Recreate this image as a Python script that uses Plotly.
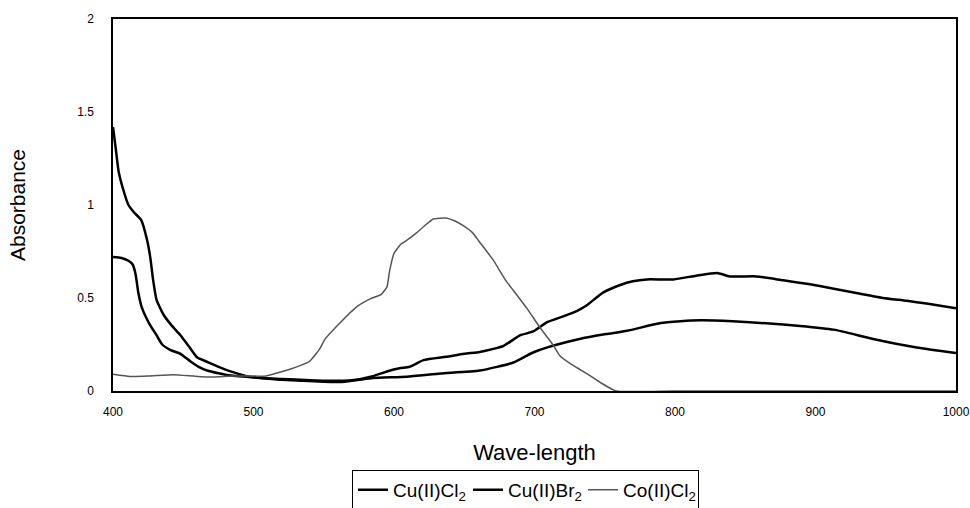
import plotly.graph_objects as go

# Wavelength (nm) / absorbance readings
cucl2_wl = [400, 402, 404, 407, 411, 415, 420, 424, 426.5, 428.5, 431, 436, 442, 448, 454, 460, 466, 472,
            480, 486, 495, 505, 520, 540, 555, 570, 585, 595, 604, 611, 621, 637, 650, 661, 670, 678,
            690, 699, 709, 720, 730, 737, 749, 761, 770, 780, 799, 815, 830, 839, 858, 877, 895, 913,
            930, 948, 965, 979, 1000]
cucl2_abs = [1.42, 1.30, 1.18, 1.09, 1.00, 0.96, 0.92, 0.82, 0.72, 0.60, 0.49, 0.41, 0.35, 0.30, 0.24, 0.18, 0.16, 0.14,
             0.115, 0.10, 0.08, 0.07, 0.065, 0.058, 0.055, 0.058, 0.08, 0.105, 0.122, 0.13, 0.166, 0.184, 0.20, 0.21, 0.225, 0.243,
             0.30, 0.32, 0.37, 0.40, 0.43, 0.46, 0.53, 0.57, 0.59, 0.60, 0.60, 0.62, 0.635, 0.616, 0.616, 0.595, 0.575, 0.55,
             0.525, 0.50, 0.485, 0.47, 0.445]

cubr2_wl = [400, 406, 411, 414, 416, 418, 420.5, 426, 431, 435, 441, 448, 455, 461, 467, 475, 481, 495,
            505, 520, 535, 550, 565, 575, 585, 609, 633, 661, 685, 699, 713, 732, 751, 766, 789, 804,
            818, 841, 865, 889, 913, 941, 972, 1000]
cubr2_abs = [0.72, 0.715, 0.70, 0.68, 0.63, 0.53, 0.45, 0.36, 0.30, 0.25, 0.22, 0.20, 0.16, 0.13, 0.11, 0.095, 0.086, 0.076,
             0.07, 0.06, 0.055, 0.05, 0.05, 0.06, 0.07, 0.077, 0.094, 0.11, 0.153, 0.207, 0.243, 0.28, 0.306, 0.324, 0.364, 0.375,
             0.38, 0.375, 0.364, 0.35, 0.33, 0.28, 0.234, 0.204]

cocl2_wl = [400, 412, 425, 443, 458, 470, 485, 500, 509, 526, 540, 547, 551, 562, 573, 583, 591, 595, 597,
            600, 605, 609, 616, 622, 628, 637, 643, 649, 656, 661, 671, 679, 685, 695, 704, 713, 718,
            725, 732, 740, 747, 758, 800, 900, 1000]
cocl2_abs = [0.09, 0.078, 0.08, 0.088, 0.08, 0.075, 0.08, 0.08, 0.081, 0.117, 0.16, 0.225, 0.28, 0.37, 0.45, 0.495, 0.52, 0.56, 0.65,
             0.74, 0.79, 0.81, 0.85, 0.89, 0.925, 0.93, 0.915, 0.89, 0.85, 0.80, 0.70, 0.60, 0.54, 0.44, 0.34, 0.25, 0.19,
             0.15, 0.117, 0.08, 0.045, 0.0, 0.0, 0.0, 0.0]

x_ticks = [400, 500, 600, 700, 800, 900, 1000]
y_ticks = [0, 0.5, 1, 1.5, 2]
y_tick_text = ["0", "0.5", "1", "1.5", "2"]

FONT = "Liberation Sans, Arial, Helvetica, sans-serif"

fig = go.Figure()
fig.add_trace(go.Scatter(x=cucl2_wl, y=cucl2_abs, mode="lines", name="Cu(II)Cl<sub>2</sub>",
                         line=dict(color="black", width=2.5, shape="spline", smoothing=0.5)))
fig.add_trace(go.Scatter(x=cubr2_wl, y=cubr2_abs, mode="lines", name="Cu(II)Br<sub>2</sub>",
                         line=dict(color="black", width=2.5, shape="spline", smoothing=0.5)))
fig.add_trace(go.Scatter(x=cocl2_wl, y=cocl2_abs, mode="lines", name="Co(II)Cl<sub>2</sub>",
                         line=dict(color="#555555", width=1.5, shape="spline", smoothing=0.4)))

fig.update_layout(
    width=970, height=508,
    margin=dict(l=113, r=14, t=19, b=117),
    paper_bgcolor="white", plot_bgcolor="white",
    font=dict(family=FONT, color="black"),
    showlegend=True,
    legend=dict(orientation="h", xref="container", yref="container",
                x=0.3629, xanchor="left", y=0.075, yanchor="top",
                bordercolor="black", borderwidth=1, font=dict(size=19, family=FONT),
                itemwidth=30, entrywidth=70, tracegroupgap=0),
)
fig.update_xaxes(range=[400, 1000], tickvals=x_ticks, ticks="", showgrid=False, zeroline=False,
                 showline=True, linecolor="black", linewidth=1.5, mirror=True, automargin=False,
                 tickfont=dict(size=12), ticklabelstandoff=9, ticklabeloverflow="allow",
                 title=dict(text="Wave-length", font=dict(size=22), standoff=26))
fig.update_yaxes(range=[0, 2], tickvals=y_ticks, ticktext=y_tick_text, ticks="", showgrid=False, zeroline=False,
                 showline=True, linecolor="black", linewidth=1.5, mirror=True, automargin=False,
                 tickfont=dict(size=12), ticklabelstandoff=15,
                 title=dict(text="Absorbance", font=dict(size=21), standoff=46))

fig.write_html("out.html", config={"displayModeBar": False},
               post_script="document.body.style.margin='0';")
